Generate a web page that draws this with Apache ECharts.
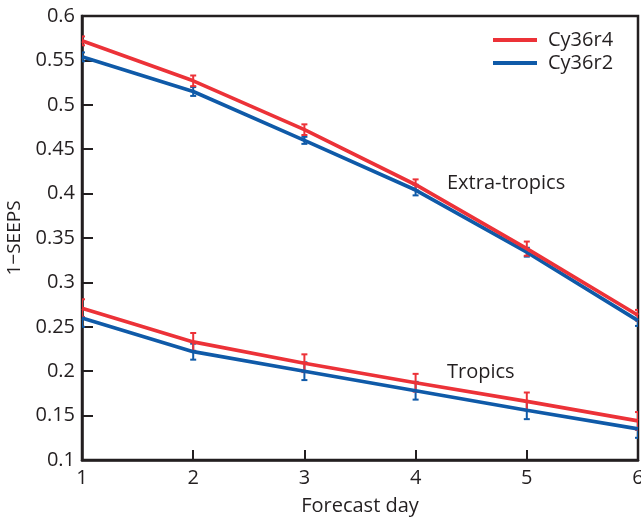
<!DOCTYPE html>
<html>
<head>
<meta charset="utf-8">
<script src="https://cdn.jsdelivr.net/npm/echarts@6/dist/echarts.min.js"></script>
<style>
  html, body { margin: 0; padding: 0; background: #fff; }
  #chart { width: 641px; height: 517px; }
</style>
</head>
<body>
<div id="chart"></div>
<script>
// 예보일
const days = [1, 2, 3, 4, 5, 6];

// Extra-tropics
const extraR4 = [0.572, 0.527, 0.472, 0.410, 0.338, 0.263];
const extraR2 = [0.554, 0.515, 0.460, 0.404, 0.334, 0.257];
const extraR4Err = [0.005, 0.006, 0.006, 0.006, 0.008, 0.006];
const extraR2Err = [0.005, 0.005, 0.004, 0.006, 0.005, 0.006];

// Tropics
const tropR4 = [0.271, 0.233, 0.209, 0.187, 0.166, 0.144];
const tropR2 = [0.260, 0.222, 0.200, 0.178, 0.156, 0.135];
const tropR4Err = [0.010, 0.010, 0.010, 0.010, 0.010, 0.010];
const tropR2Err = [0.010, 0.009, 0.010, 0.010, 0.010, 0.010];

const yTicks = [0.1, 0.6, 0.05]; // min, max, interval

const RED = '#ec3238';
const BLUE = '#0f5aa8';
const INK = '#231f20';
const FONT = 'Open Sans';

const pairs = (vals) => days.map((d, i) => [d, vals[i]]);
const errData = (vals, errs) => days.map((d, i) => [d, vals[i] - errs[i], vals[i] + errs[i]]);

const lineSeries = (name, color, vals) => ({
  name,
  type: 'line',
  data: pairs(vals),
  symbol: 'none',
  lineStyle: { color, width: 3.7 },
  itemStyle: { color },
  silent: true,
  animation: false
});

// 오차 막대
const errSeries = (name, color, vals, errs) => ({
  name,
  type: 'custom',
  clip: true,
  data: errData(vals, errs),
  animation: false,
  silent: true,
  renderItem: (params, api) => {
    const lo = api.coord([api.value(0), api.value(1)]);
    const hi = api.coord([api.value(0), api.value(2)]);
    const cap = 3;
    const style = { stroke: color, lineWidth: 2 };
    return {
      type: 'group',
      children: [
        { type: 'line', shape: { x1: lo[0], y1: lo[1], x2: hi[0], y2: hi[1] }, style },
        { type: 'line', shape: { x1: lo[0] - cap, y1: lo[1], x2: lo[0] + cap, y2: lo[1] }, style },
        { type: 'line', shape: { x1: hi[0] - cap, y1: hi[1], x2: hi[0] + cap, y2: hi[1] }, style }
      ]
    };
  }
});

const chart = echarts.init(document.getElementById('chart'), null, { renderer: 'canvas' });

chart.setOption({
  animation: false,
  backgroundColor: '#fff',
  textStyle: { fontFamily: FONT, color: INK },
  grid: {
    left: 82, right: 3, top: 16, bottom: 57,
    outerBoundsMode: 'none',
    containLabel: false,
    show: true, borderColor: INK, borderWidth: 2.5, backgroundColor: 'transparent'
  },
  legend: {
    data: ['Cy36r4', 'Cy36r2'],
    orient: 'vertical',
    left: 488, top: 25,
    itemWidth: 44, itemHeight: 4, itemGap: 3,
    icon: 'rect',
    textStyle: { fontFamily: FONT, fontSize: 20, color: INK, padding: [0, 0, 0, 6] },
    selectedMode: false
  },
  xAxis: {
    type: 'value',
    min: 1, max: 6, interval: 1,
    name: 'Forecast day',
    nameLocation: 'middle',
    nameGap: 36,
    nameTextStyle: { fontFamily: FONT, fontSize: 20, color: INK },
    axisLine: { onZero: false, lineStyle: { color: INK, width: 2.5 } },
    axisTick: { inside: true, length: 10, lineStyle: { color: INK, width: 2 } },
    axisLabel: { margin: 8, fontFamily: FONT, fontSize: 20, color: INK },
    splitLine: { show: false }
  },
  yAxis: {
    type: 'value',
    min: yTicks[0], max: yTicks[1], interval: yTicks[2],
    name: '1\u2212SEEPS',
    nameLocation: 'middle',
    nameGap: 52,
    nameRotate: 90,
    nameTextStyle: { fontFamily: FONT, fontSize: 19, color: INK },
    axisLine: { onZero: false, lineStyle: { color: INK, width: 2.5 } },
    axisTick: { inside: true, length: 11, lineStyle: { color: INK, width: 2 } },
    axisLabel: { margin: 7, fontFamily: FONT, fontSize: 20, color: INK },
    splitLine: { show: false }
  },
  graphic: [
    { type: 'text', left: 447, top: 173, style: { text: 'Extra-tropics', font: '20px "Open Sans"', fill: INK } },
    { type: 'text', left: 447, top: 362, style: { text: 'Tropics', font: '20px "Open Sans"', fill: INK } }
  ],
  series: [
    lineSeries('Cy36r2', BLUE, extraR2),
    lineSeries('Cy36r2', BLUE, tropR2),
    lineSeries('Cy36r4', RED, extraR4),
    lineSeries('Cy36r4', RED, tropR4),
    errSeries('Cy36r2', BLUE, extraR2, extraR2Err),
    errSeries('Cy36r2', BLUE, tropR2, tropR2Err),
    errSeries('Cy36r4', RED, extraR4, extraR4Err),
    errSeries('Cy36r4', RED, tropR4, tropR4Err)
  ]
});
</script>
</body>
</html>
